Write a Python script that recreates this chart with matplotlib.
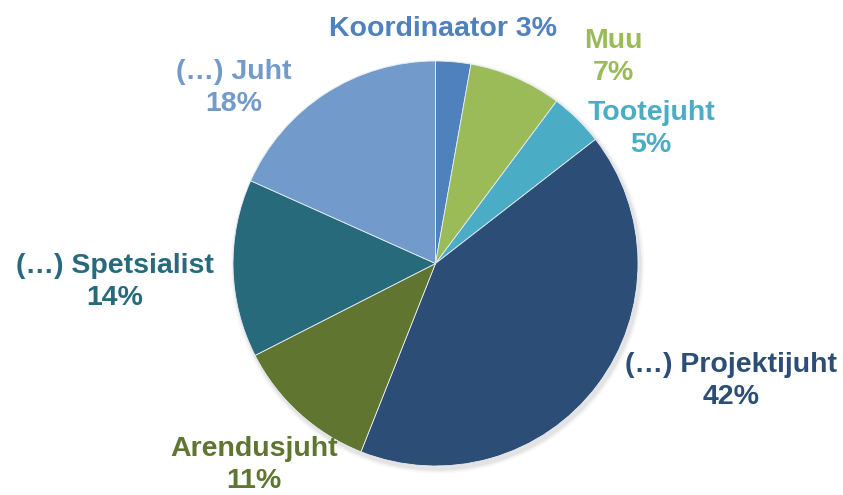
import matplotlib
matplotlib.use("Agg")
import matplotlib.pyplot as plt
from matplotlib.patches import Circle

labels = ["Koordinaator", "Muu", "Tootejuht", "(…) Projektijuht",
          "Arendusjuht", "(…) Spetsialist", "(…) Juht"]
# wedge sizes; printed labels as shown
shares = [2.8, 7.4, 4.3, 41.5, 11.5, 14.2, 18.3]
pct_text = ["3%", "7%", "5%", "42%", "11%", "14%", "18%"]
colors = ["#4F81BD", "#9BBB59", "#4BACC6", "#2C4D75",
          "#5F7530", "#276A7C", "#729ACA"]

# label centres in pixels (x, y from top) and whether on one line
label_pos = [(443, 29), (613, 57), (651, 129), (731, 381),
             (254, 465), (115, 282), (234, 88)]
one_line = [True, False, False, False, False, False, False]

W, H = 843, 495
fig = plt.figure(figsize=(W / 100, H / 100), dpi=100)
ax = fig.add_axes([0, 0, 1, 1])

cx, cy, r = 435.5, H - 263.5, 202.5

# soft shadow
for i, a in enumerate([0.05, 0.035, 0.025]):
    ax.add_patch(Circle((cx + 2, cy - 3), r + 1.5 + i * 1.5, color="black",
                        alpha=a, lw=0, zorder=0))

ax.pie(shares, colors=colors, startangle=90, counterclock=False,
       center=(cx, cy), radius=r, frame=True,
       wedgeprops=dict(edgecolor="#e8eef5", linewidth=0.6))
ax.set_xlim(0, W)
ax.set_ylim(0, H)
ax.set_aspect("equal")
ax.axis("off")

for lab, p, c, (px, py), one in zip(labels, pct_text, colors, label_pos, one_line):
    txt = f"{lab} {p}" if one else f"{lab}\n{p}"
    ax.text(px, H - py, txt, color=c, ha="center", va="center",
            fontsize=20.5, fontweight="bold", family="Liberation Sans",
            linespacing=1.3, zorder=5)

fig.savefig("out.png", dpi=100)
